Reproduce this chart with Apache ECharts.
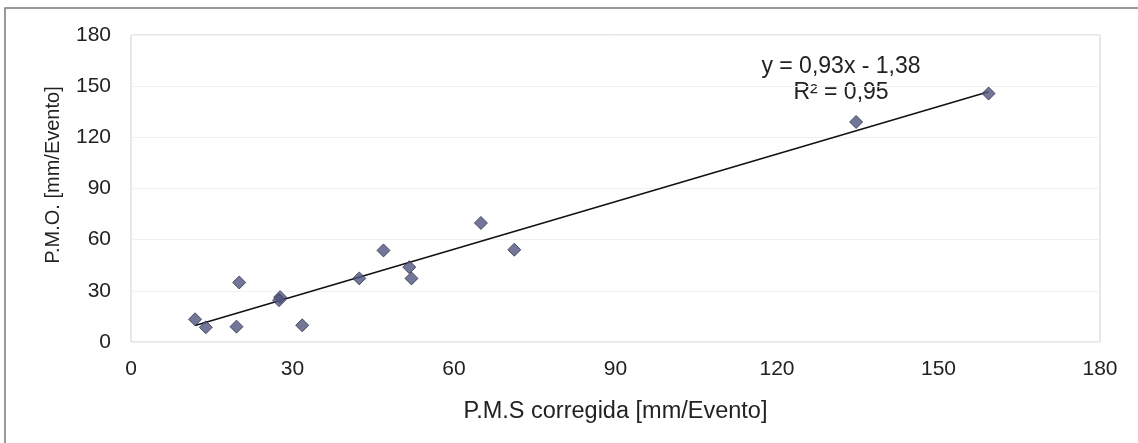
<!DOCTYPE html>
<html>
<head>
<meta charset="utf-8">
<script src="https://cdn.jsdelivr.net/npm/echarts@6/dist/echarts.min.js"></script>
<style>
  html, body { margin: 0; padding: 0; background: #fff; }
  #chart { width: 1138px; height: 443px; }
</style>
</head>
<body>
<div id="chart"></div>
<script>
// P.M.S corregida (x) vs P.M.O. (y), mm/Evento
const pmsValues = [11.9, 13.9, 20.1, 19.6, 27.7, 27.5, 31.8, 42.4, 46.9, 51.7, 52.1, 65.0, 71.2, 134.7, 159.3]
const pmoValues = [13.3, 8.6, 34.9, 9.0, 26.3, 24.5, 9.8, 37.3, 53.7, 43.9, 37.3, 69.8, 54.1, 129.0, 145.7]
const axisTicks = [0, 30, 60, 90, 120, 150, 180]
const trendSlope = 0.93
const trendIntercept = -1.38
const trendLabel = ['y = 0,93x - 1,38', 'R² = 0,95']

const points = pmsValues.map((x, i) => [x, pmoValues[i]])
const xMin = Math.min(...pmsValues)
const xMax = Math.max(...pmsValues)
const trendLine = [xMin, xMax].map(x => [x, trendSlope * x + trendIntercept])

const font = 'Liberation Sans, Arial, sans-serif'
const chart = echarts.init(document.getElementById('chart'))

chart.setOption({
  animation: false,
  backgroundColor: '#fff',
  grid: {
    left: 131, right: 38, top: 35, bottom: 101,
    show: true, borderColor: '#cfcfcf', borderWidth: 1
  },
  xAxis: {
    type: 'value',
    min: axisTicks[0], max: axisTicks[axisTicks.length - 1], interval: 30,
    name: 'P.M.S corregida [mm/Evento]',
    nameLocation: 'middle', nameGap: 58,
    nameTextStyle: { fontFamily: font, fontSize: 23.5, color: '#222' },
    axisLine: { show: false },
    axisTick: { show: false },
    splitLine: { show: false },
    axisLabel: { fontFamily: font, fontSize: 21, color: '#222', margin: 17 }
  },
  yAxis: {
    type: 'value',
    min: axisTicks[0], max: axisTicks[axisTicks.length - 1], interval: 30,
    axisLine: { show: false },
    axisTick: { show: false },
    splitLine: { show: true, lineStyle: { color: '#f0f0f0', width: 1 } },
    axisLabel: { fontFamily: font, fontSize: 21, color: '#222', margin: 20 }
  },
  graphic: [
    {
      type: 'rect',
      shape: { x: 5, y: 8, width: 1160, height: 460 },
      style: { fill: 'none', stroke: '#7a7a7a', lineWidth: 1.5 },
      silent: true
    },
    {
      // y axis title sits a little above the plot's middle in the original
      type: 'text',
      x: 53, y: 175,
      rotation: Math.PI / 2,
      style: {
        text: 'P.M.O. [mm/Evento]',
        font: '20px ' + font,
        fill: '#222',
        align: 'center',
        verticalAlign: 'middle'
      }
    },
    {
      type: 'text',
      x: 841, y: 54,
      style: {
        text: trendLabel.join('\n'),
        font: '23px ' + font,
        fill: '#222',
        align: 'center',
        verticalAlign: 'top',
        lineHeight: 26
      }
    }
  ],
  series: [
    {
      type: 'line',
      data: trendLine,
      symbol: 'none',
      lineStyle: { color: '#111', width: 1.5 },
      z: 2
    },
    {
      type: 'scatter',
      data: points,
      symbol: 'diamond',
      symbolSize: 13,
      itemStyle: { color: '#4f5480', borderColor: '#33354a', borderWidth: 1 },
      z: 3
    }
  ]
})
</script>
</body>
</html>
